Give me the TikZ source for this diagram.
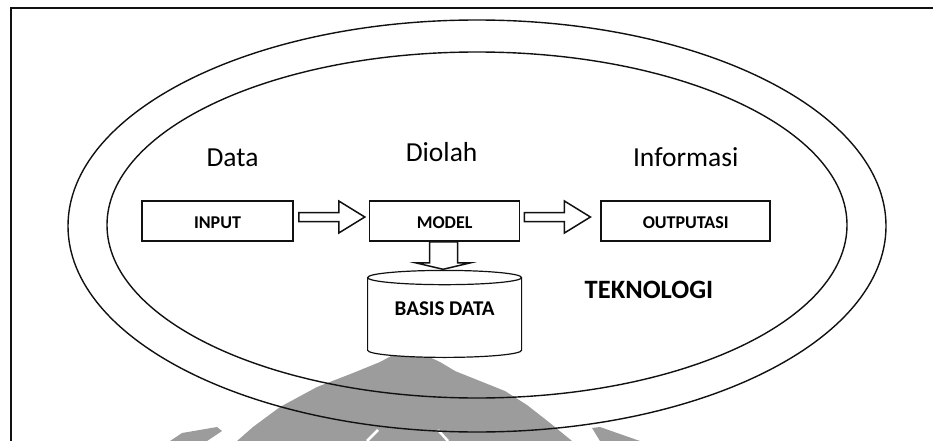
\documentclass[tikz,border=0pt]{standalone}
\usepackage{fontspec}
\setmainfont{Carlito}
\usetikzlibrary{positioning,calc,shapes.geometric}
\definecolor{Ink}{HTML}{111111}
\definecolor{Mark}{HTML}{9C9C9C}

\begin{document}
\begin{tikzpicture}[
 x=1pt,y=-1pt,
 box/.style={draw=Ink,line width=1.6pt,minimum height=40pt,inner sep=0pt,text height=15.6pt,text depth=0pt,font=\fontsize{18}{20}\selectfont\bfseries},
 lbl/.style={font=\fontsize{27.5}{30}\selectfont,anchor=base},
 blk/.style={draw=Ink,line width=1.5pt,fill=white,line join=miter},
 db/.style={cylinder,shape border rotate=90,aspect=0.143,draw=Ink,fill=white,line width=1.2pt,minimum width=154pt,minimum height=87pt,inner sep=0pt,text height=13.5pt,text depth=18pt,font=\fontsize{21}{24}\selectfont\bfseries}
]
\useasboundingbox (0,0) rectangle (933,441);
% faded mark behind the page
\fill[Mark] (380,362)--(393,355)--(410,353)--(425,355)--(440,362)--(455,371)--(480,381)--(505,391)--(527,405)--(550,423)--(572,441)--(237,441)--(253,427)--(280,407)--(317,387)--(353,373)--cycle;
\fill[Mark] (170,441)--(182,433)--(217,427)--(222,431)--(207,441)--cycle;
\fill[Mark] (592,428)--(600,427)--(640,441)--(600,441)--cycle;
\draw[white,line width=2.5pt] (378,430)--(367,441) (438,430)--(448,441);
% page frame and rings
\draw[Ink,line width=1.8pt] (933,8)--(11,8)--(11,441);
\draw[Ink,line width=1.4pt] (477,226) ellipse [x radius=409,y radius=206];
\draw[Ink,line width=1.4pt] (477,225) ellipse [x radius=370,y radius=173];
\node[box,minimum width=151pt] (input) at (217.5,221) {INPUT};
\node[box,minimum width=150pt,right=75pt of input] (model) {MODEL};
\node[box,minimum width=169pt,right=80pt of model] (outputasi) {OUTPUTASI};
\node[db,below=28pt of model] (basis) {BASIS DATA};
\node[lbl] (data) at ($(input.north)+(15,-34)$) {Data};
\node[lbl] (diolah) at ($(model.north)+(-3,-39)$) {Diolah};
\node[lbl] (informasi) at ($(outputasi.north)+(0,-34)$) {Informasi};
\node[font=\fontsize{26.5}{29}\selectfont\bfseries,anchor=base] (teknologi) at (649,298) {TEKNOLOGI};
\draw[blk] ($(input.east)+(5,0.5)$)--++(40,0)--++(0,11.5)--++(26,-16)--++(-26,-16)--++(0,11.5)--++(-40,0)--cycle;
\draw[blk] ($(model.east)+(4,0.5)$)--++(40,0)--++(0,11.5)--++(26,-16)--++(-26,-16)--++(0,11.5)--++(-40,0)--cycle;
\draw[blk] ($(model.south)+(-15,0)$)--++(0,21)--++(-14,0)--++(27.5,6.5)--++(27.5,-6.5)--++(-13,0)--++(0,-21)--cycle;
\end{tikzpicture}
\end{document}
